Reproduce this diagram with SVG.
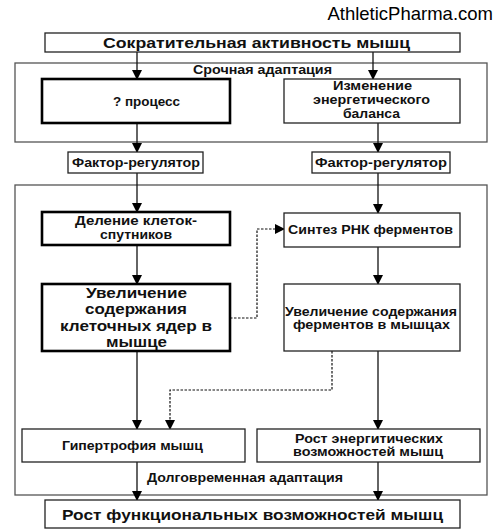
<svg xmlns="http://www.w3.org/2000/svg" width="500" height="531" viewBox="0 0 500 531">
<style>
.bg{fill:#fff}
.frame{fill:none;stroke:#555;stroke-width:1.3}
.box{fill:#fff;stroke:#222;stroke-width:1.3}
.thick{fill:#fff;stroke:#000;stroke-width:2.6}
.t{font-family:"Liberation Sans",Arial,sans-serif;font-weight:bold;fill:#111;text-anchor:middle}
.s12{font-size:12px}
.s14{font-size:14px}
.s15{font-size:15px}
.c{fill:none;stroke:#111;stroke-width:1.3}
.d{fill:none;stroke:#111;stroke-width:1.2;stroke-dasharray:2.5,1.5}
</style>
<defs>
<marker id="ah" markerWidth="10" markerHeight="10" refX="9" refY="5" orient="auto" markerUnits="userSpaceOnUse">
<path d="M0,0 L10,5 L0,10 Z" fill="#000"/>
</marker>
</defs>
<rect class="bg" x="0" y="0" width="500" height="531"/>
<text x="493" y="20" font-family="Liberation Sans,Arial,sans-serif" font-size="18.5" text-anchor="end" fill="#000">AthleticPharma.com</text>

<g id="frame-short">
<rect class="frame" x="15" y="63" width="472" height="79"/>
<text class="t s12" x="262.5" y="74" textLength="139" lengthAdjust="spacingAndGlyphs">Срочная адаптация</text>
</g>
<g id="frame-long">
<rect class="frame" x="15" y="185" width="472" height="310"/>
<text class="t s12" x="245" y="482" textLength="196" lengthAdjust="spacingAndGlyphs">Долговременная адаптация</text>
</g>

<g id="connectors">
<line class="c" x1="137" y1="52" x2="137" y2="79" marker-end="url(#ah)"/>
<line class="c" x1="373" y1="52" x2="373" y2="79" marker-end="url(#ah)"/>
<line class="c" x1="137" y1="123" x2="137" y2="152" marker-end="url(#ah)"/>
<line class="c" x1="378" y1="123" x2="378" y2="152" marker-end="url(#ah)"/>
<line class="c" x1="137" y1="173" x2="137" y2="212" marker-end="url(#ah)"/>
<line class="c" x1="378" y1="173" x2="378" y2="213" marker-end="url(#ah)"/>
<line class="c" x1="137" y1="245" x2="137" y2="284" marker-end="url(#ah)"/>
<line class="c" x1="378" y1="247" x2="378" y2="284" marker-end="url(#ah)"/>
<polyline class="d" points="230,318 257,318 257,229 284,229" marker-end="url(#ah)"/>
<polyline class="d" points="332,351 332,390 170,390 170,429" marker-end="url(#ah)"/>
<line class="c" x1="137" y1="351" x2="137" y2="429" marker-end="url(#ah)"/>
<line class="c" x1="378" y1="351" x2="378" y2="429" marker-end="url(#ah)"/>
<line class="c" x1="137" y1="462" x2="137" y2="500" marker-end="url(#ah)"/>
<line class="c" x1="378" y1="462" x2="378" y2="500" marker-end="url(#ah)"/>
</g>

<g id="n-top">
<rect class="box" x="45" y="33" width="415" height="19"/>
<text class="t s15" x="256.5" y="47.5" textLength="307" lengthAdjust="spacingAndGlyphs">Сократительная активность мышц</text>
</g>
<g id="n-process">
<rect class="thick" x="42" y="79" width="188" height="44"/>
<text class="t s12" x="146.5" y="106" textLength="67" lengthAdjust="spacingAndGlyphs">? процесс</text>
</g>
<g id="n-energy-balance">
<rect class="box" x="284" y="79" width="176" height="44"/>
<text class="t s12" x="372.5" y="90" textLength="79" lengthAdjust="spacingAndGlyphs">Изменение</text>
<text class="t s12" x="371.5" y="104" textLength="117" lengthAdjust="spacingAndGlyphs">энергетического</text>
<text class="t s12" x="371.5" y="118" textLength="57" lengthAdjust="spacingAndGlyphs">баланса</text>
</g>
<g id="n-factor-left">
<rect class="box" x="68" y="152" width="135" height="21"/>
<text class="t s12" x="136" y="167" textLength="128" lengthAdjust="spacingAndGlyphs">Фактор-регулятор</text>
</g>
<g id="n-factor-right">
<rect class="box" x="312" y="152" width="138" height="21"/>
<text class="t s12" x="381" y="167" textLength="132" lengthAdjust="spacingAndGlyphs">Фактор-регулятор</text>
</g>
<g id="n-division">
<rect class="thick" x="42" y="212" width="188" height="33"/>
<text class="t s12" x="136" y="225" textLength="122" lengthAdjust="spacingAndGlyphs">Деление  клеток-</text>
<text class="t s12" x="136" y="239" textLength="72" lengthAdjust="spacingAndGlyphs">спутников</text>
</g>
<g id="n-rna">
<rect class="box" x="284" y="213" width="176" height="34"/>
<text class="t s12" x="370.5" y="234" textLength="165" lengthAdjust="spacingAndGlyphs">Синтез РНК ферментов</text>
</g>
<g id="n-nuclei">
<rect class="thick" x="42" y="284" width="188" height="67"/>
<text class="t s14" x="136.5" y="298" textLength="101" lengthAdjust="spacingAndGlyphs">Увеличение</text>
<text class="t s14" x="136" y="314" textLength="102" lengthAdjust="spacingAndGlyphs">содержания</text>
<text class="t s14" x="136" y="331" textLength="152" lengthAdjust="spacingAndGlyphs">клеточных ядер в</text>
<text class="t s14" x="136.5" y="347" textLength="61" lengthAdjust="spacingAndGlyphs">мышце</text>
</g>
<g id="n-enzymes">
<rect class="box" x="284" y="284" width="176" height="67"/>
<text class="t s12" x="371" y="316" textLength="172" lengthAdjust="spacingAndGlyphs">Увеличение содержания</text>
<text class="t s12" x="371.5" y="329" textLength="157" lengthAdjust="spacingAndGlyphs">ферментов в мышцах</text>
</g>
<g id="n-hypertrophy">
<rect class="box" x="22" y="429" width="223" height="33"/>
<text class="t s12" x="132.5" y="450" textLength="141" lengthAdjust="spacingAndGlyphs">Гипертрофия мышц</text>
</g>
<g id="n-energy-growth">
<rect class="box" x="257" y="429" width="223" height="33"/>
<text class="t s12" x="369" y="443" textLength="148" lengthAdjust="spacingAndGlyphs">Рост энергитических</text>
<text class="t s12" x="368" y="456" textLength="150" lengthAdjust="spacingAndGlyphs">возможностей мышц</text>
</g>
<g id="n-bottom">
<rect class="box" x="45" y="500" width="415" height="28"/>
<text class="t s15" x="252.5" y="520" textLength="381" lengthAdjust="spacingAndGlyphs">Рост функциональных возможностей мышц</text>
</g>
</svg>
